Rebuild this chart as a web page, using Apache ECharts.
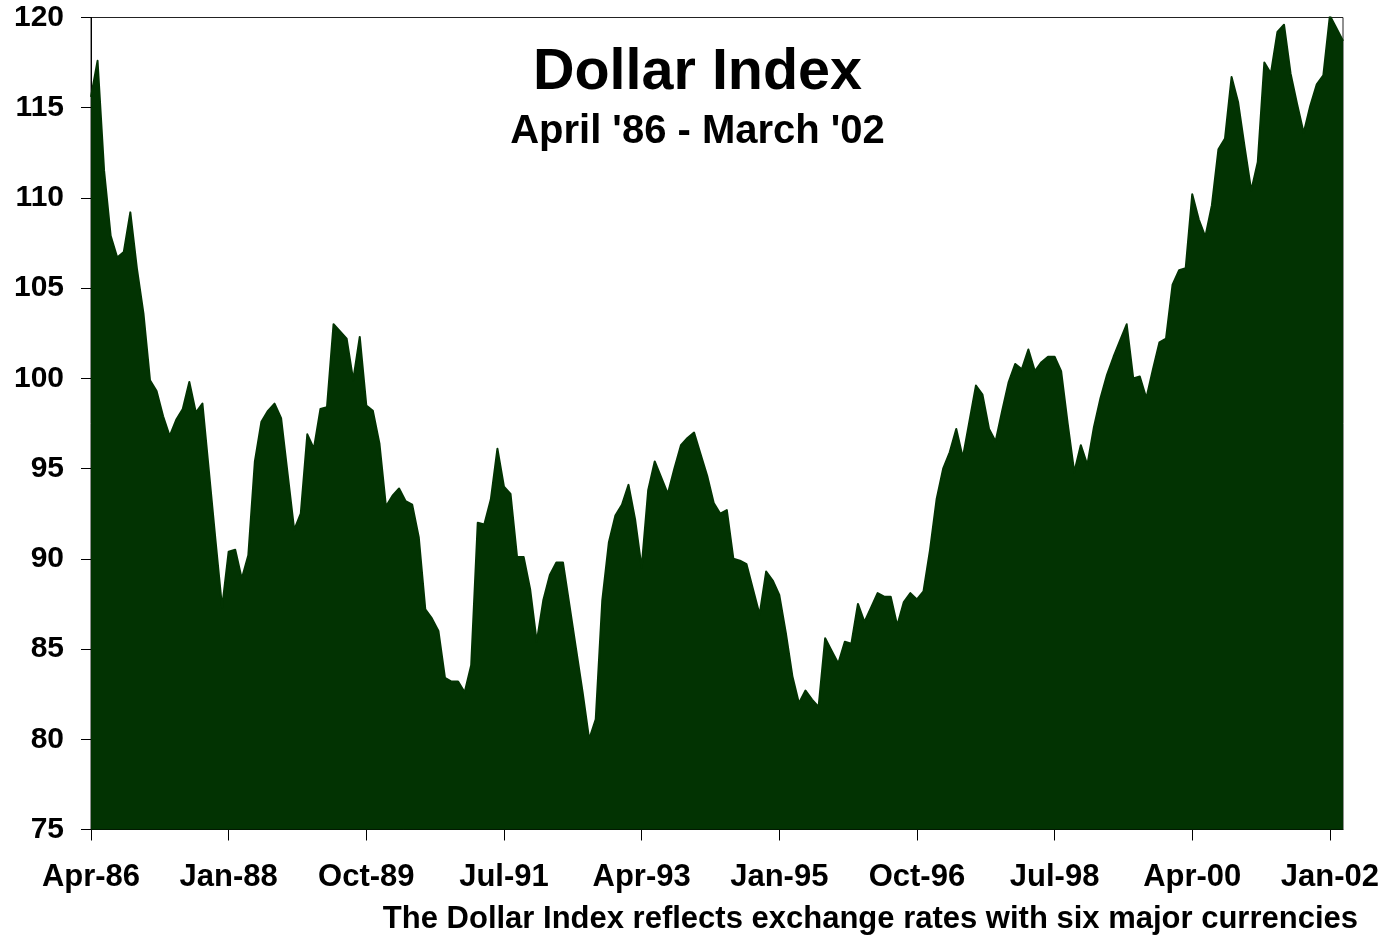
<!DOCTYPE html>
<html>
<head>
<meta charset="utf-8">
<script src="https://cdn.jsdelivr.net/npm/echarts@6/dist/echarts.min.js"></script>
<style>
html,body{margin:0;padding:0;background:#fff;}
#chart{width:1395px;height:935px;}
</style>
</head>
<body>
<div id="chart"></div>
<script>
// Monthly Dollar Index, April 1986 - March 2002 (192 months)
const startYear = 1986;
const startMonth = 3; // April (0-based)
const monthNames = ['Jan','Feb','Mar','Apr','May','Jun','Jul','Aug','Sep','Oct','Nov','Dec'];

const values1986to1991 = [
  115.6, 117.6, 111.5, 107.9, 106.7, 107.0, 109.2, 106.1, 103.6, 99.9, 99.3, 97.9,
  96.8, 97.7, 98.3, 99.8, 98.1, 98.6, 94.8, 91.0, 87.3, 90.4, 90.5, 88.9,
  90.2, 95.4, 97.6, 98.2, 98.6, 97.8, 94.7, 91.6, 92.5, 96.9, 96.1, 98.3,
  98.4, 103.0, 102.6, 102.2, 99.9, 102.3, 98.5, 98.2, 96.4, 92.9, 93.5, 93.9,
  93.2, 93.0, 91.2, 87.2, 86.7, 86.0, 83.4, 83.2, 83.2, 82.6, 84.1, 92.0,
  91.9, 93.3, 96.1, 94.0
];
const values1991to1996 = [
  93.6, 90.1, 90.1, 88.3, 85.4, 87.7, 89.1, 89.8, 89.8, 87.4, 85.0, 82.6,
  80.0, 81.1, 87.7, 90.9, 92.4, 93.0, 94.1, 92.2, 89.5, 93.8, 95.4, 94.5,
  93.6, 95.0, 96.3, 96.7, 97.0, 95.8, 94.6, 93.1, 92.5, 92.7, 90.0, 89.9,
  89.7, 88.3, 86.9, 89.3, 88.8, 88.0, 85.9, 83.5, 82.0, 82.7, 82.2, 81.8,
  85.6, 84.9, 84.2, 85.4, 85.3, 87.5, 86.5, 87.3, 88.1, 87.9, 87.9, 86.3,
  87.6, 88.1, 87.75, 88.2
];
const values1996to2002 = [
  90.5, 93.3, 95.0, 95.9, 97.2, 95.6, 97.6, 99.6, 99.1, 97.2, 96.5, 98.2,
  99.8, 100.8, 100.5, 101.6, 100.4, 100.9, 101.2, 101.2, 100.4, 97.5, 94.8, 96.3,
  95.2, 97.3, 98.9, 100.2, 101.2, 102.1, 103.0, 100.0, 100.1, 98.9, 100.5, 102.0,
  102.2, 105.2, 106.0, 106.1, 110.2, 108.8, 107.85, 109.6, 112.7, 113.3, 116.7, 115.3,
  112.8, 110.4, 112.0, 117.5, 116.9, 119.2, 119.6, 116.9, 115.2, 113.6, 115.1, 116.3,
  116.8, 120.1, 119.4, 118.7
];
const dollarIndex = values1986to1991.concat(values1991to1996, values1996to2002);

const categories = [];
for (let i = 0; i < dollarIndex.length; i++) {
  const m = (startMonth + i) % 12;
  const y = startYear + Math.floor((startMonth + i) / 12);
  categories.push(monthNames[m] + '-' + String(y % 100).padStart(2, '0'));
}

const titleText = 'Dollar Index';
const subtitleText = "April '86 - March '02";
const footnoteText = 'The Dollar Index reflects exchange rates with six major currencies';

const FONT = '"Liberation Sans", Arial, sans-serif';
const chart = echarts.init(document.getElementById('chart'), null, {renderer: 'canvas'});
chart.setOption({
  animation: false,
  backgroundColor: '#ffffff',
  title: [
    {text: titleText, left: 'center', top: 44, padding: 0,
     textStyle: {fontFamily: FONT, fontSize: 57.5, fontWeight: 'bold', color: '#000'}},
    {text: subtitleText, left: 'center', top: 112, padding: 0,
     textStyle: {fontFamily: FONT, fontSize: 40, fontWeight: 'bold', color: '#000'}},
    {text: footnoteText, right: 37, top: 904, padding: 0,
     textStyle: {fontFamily: FONT, fontSize: 31, fontWeight: 'bold', color: '#000'}}
  ],
  grid: {left: 91, right: 52, top: 17.5, bottom: 105.5, containLabel: false,
         show: true, borderColor: '#222', borderWidth: 1, backgroundColor: 'transparent'},
  xAxis: {
    type: 'category',
    data: categories,
    boundaryGap: false,
    axisLine: {show: true, lineStyle: {color: '#000', width: 1}},
    axisTick: {show: true, interval: 20, length: 11, lineStyle: {color: '#000', width: 1}},
    axisLabel: {interval: 20, margin: 32, color: '#000', fontFamily: FONT,
                fontSize: 31, fontWeight: 'bold'},
    splitLine: {show: false}
  },
  yAxis: {
    type: 'value',
    min: 75, max: 120, interval: 5,
    axisLine: {show: true, lineStyle: {color: '#000', width: 1}},
    axisTick: {show: true, length: 10, lineStyle: {color: '#000', width: 1}},
    axisLabel: {margin: 27, color: '#000', fontFamily: FONT, fontSize: 30,
                fontWeight: 'bold', padding: [6, 0, 0, 0]},
    splitLine: {show: false}
  },
  series: [{
    type: 'line',
    data: dollarIndex,
    symbol: 'none',
    smooth: false,
    lineStyle: {color: '#023302', width: 2, join: 'round'},
    areaStyle: {color: '#023302', opacity: 1, origin: 'start'},
    z: 1
  }]
});
</script>
</body>
</html>
